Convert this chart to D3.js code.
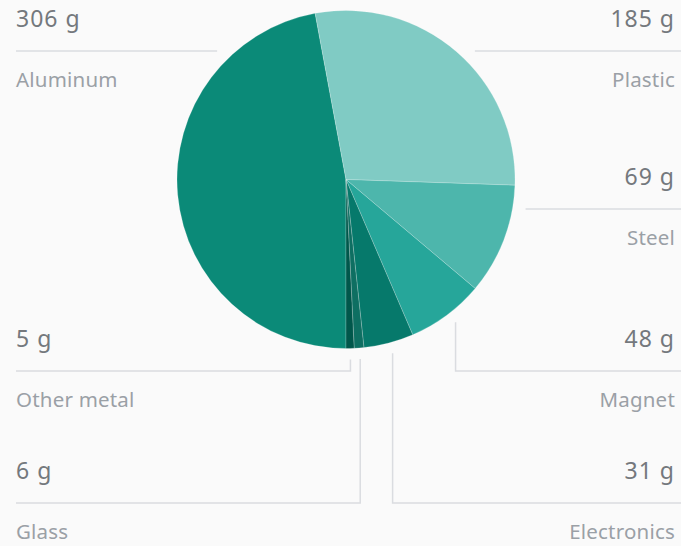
<!DOCTYPE html>
<html>
<head>
<meta charset="utf-8">
<script src="https://cdn.jsdelivr.net/npm/d3@7"></script>
<style>
  html, body { margin: 0; padding: 0; background: #fafafa; }
  svg { display: block; font-family: "Noto Sans", Roboto, sans-serif; }
  .value { fill: #74787d; font-size: 23px; letter-spacing: 1px; }
  .label { fill: #9aa0a6; font-size: 20.5px; letter-spacing: 0.2px; }
  .leader { stroke: #dadce0; stroke-width: 1.5; fill: none; }
</style>
</head>
<body>
<svg width="681" height="546"></svg>
<script>
// data
const materials = ["Aluminum", "Plastic", "Steel", "Magnet", "Electronics", "Glass", "Other metal"];
const grams = [306, 185, 69, 48, 31, 6, 5];
const colors = ["#0b8a78", "#80cbc4", "#4db6ac", "#26a69a", "#06796b", "#0e6f62", "#00574b"];

// label slots: side and y of the rule under the value
const slots = {
    "Aluminum":    { side: "left",  y: 51,  elbow: false },
    "Plastic":     { side: "right", y: 51,  elbow: false },
    "Steel":       { side: "right", y: 209, elbow: false },
    "Magnet":      { side: "right", y: 371, elbow: true },
    "Electronics": { side: "right", y: 503, elbow: true },
    "Glass":       { side: "left",  y: 503, elbow: true },
    "Other metal": { side: "left",  y: 371, elbow: true }
};

const svg = d3.select("svg");
const width = +svg.attr("width");
const cx = 346, cy = 179.5, r = 169;

const rows = materials.map((m, i) => ({ name: m, value: grams[i], color: colors[i] }));

const pie = d3.pie()
    .sort(null)
    .value(d => d.value)
    .startAngle(Math.PI)
    .endAngle(3 * Math.PI);

const arc = d3.arc().innerRadius(0).outerRadius(r);

const arcs = pie(rows);

const g = svg.append("g").attr("transform", `translate(${cx},${cy})`);

g.selectAll("path.slice")
    .data(arcs)
    .join("path")
    .attr("class", "slice")
    .attr("d", arc)
    .attr("fill", d => d.data.color)
    .attr("stroke", "rgba(255,255,255,0.35)")
    .attr("stroke-width", 0.6);

// leaders and labels
const leftX = 16, rightX = 675;

arcs.forEach(a => {
    const s = slots[a.data.name];
    const mid = (a.startAngle + a.endAngle) / 2;
    let path;
    const edge = s.side === "left" ? leftX : width;
    if (!s.elbow) {
        const R = 182;
        const dy = s.y - cy;
        const dx = Math.sqrt(R * R - dy * dy);
        const x = s.side === "left" ? cx - dx : cx + dx;
        path = `M${edge},${s.y}H${x}`;
    } else {
        const x = cx + 184 * Math.sin(mid);
        const dx = x - cx;
        const yTop = cy + Math.sqrt(180 * 180 - dx * dx);
        path = `M${edge},${s.y}H${x}V${yTop}`;
    }
    svg.append("path").attr("class", "leader").attr("d", path);

    const tx = s.side === "left" ? leftX : rightX;
    const anchor = s.side === "left" ? "start" : "end";
    svg.append("text")
        .attr("class", "value")
        .attr("x", tx)
        .attr("y", s.y - 24)
        .attr("text-anchor", anchor)
        .text(a.data.value + " g");
    svg.append("text")
        .attr("class", "label")
        .attr("x", tx)
        .attr("y", s.y + 36)
        .attr("text-anchor", anchor)
        .text(a.data.name);
});
</script>
</body>
</html>
